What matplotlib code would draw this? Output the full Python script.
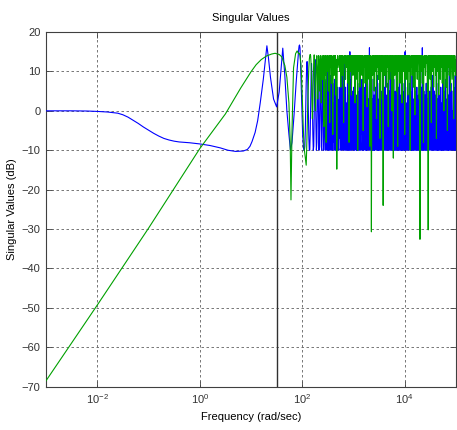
# -*- coding: utf-8 -*-
"""
Singular values plot (sigma-style), values read off the reference picture
"""

import numpy as np
import matplotlib
matplotlib.use('Agg')
import matplotlib.pyplot as plt
from matplotlib.ticker import NullLocator, LogFormatterMathtext

plt.rcParams['font.family'] = ['Liberation Sans', 'DejaVu Sans']
plt.rcParams['mathtext.fontset'] = 'custom'
plt.rcParams['mathtext.rm'] = 'Liberation Sans'
plt.rcParams['mathtext.it'] = 'Liberation Sans'

# Smooth part of the curves: log10(frequency) and dB

blue_logw = [-3, -2.5, -2.2, -2, -1.8, -1.6, -1.5, -1.4, -1.3, -1.2, -1.1,
             -1.0, -0.9, -0.8, -0.7, -0.6, -0.5, -0.4, -0.2, 0, 0.2, 0.4,
             0.55, 0.7, 0.85, 0.93, 0.98, 1.02, 1.08, 1.13, 1.18, 1.24,
             1.28, 1.31, 1.34, 1.38, 1.44, 1.50, 1.55, 1.59, 1.62, 1.66,
             1.70, 1.74, 1.77, 1.80, 1.84, 1.88, 1.92]
blue_db = [0, 0, -0.05, -0.15, -0.3, -0.6, -1.0, -1.6, -2.4, -3.2, -4.1,
           -4.9, -5.7, -6.4, -7.0, -7.4, -7.7, -7.9, -8.1, -8.4, -8.8, -9.4,
           -10.0, -10.3, -10.2, -9.8, -9.0, -7.8, -5.5, -2.5, 2.0, 8.0,
           13.0, 16.5, 13.5, 8.5, 3.0, 1.0, 4.8, 11.0, 15.9, 9.0,
           0.0, -6.0, -10.0, -8.0, -1.0, 7.0, 14.0]

green_logw = [-3, -2, -1, 0, 0.5, 0.8, 1.0, 1.1, 1.2, 1.3, 1.4, 1.47, 1.55,
              1.6, 1.66, 1.70, 1.74, 1.765, 1.78, 1.80, 1.83, 1.87, 1.90]
green_db = [-68.5, -49.3, -29.8, -9.6, -0.8, 5.8, 9.9, 11.7, 13.0, 13.9,
            14.4, 14.6, 14.3, 13.7, 11.5, 8.5, 2.0, -8.0, -22.6, -5.0, 10.9,
            14.5, 15.2]

# High-frequency part, first 10^1.93 .. 10^2.7, then 10^2.715 .. 10^5

band_a_logw = np.linspace(1.93, 2.70, 90)
band_b_logw = np.linspace(2.715, 5.0, 300)

blue_a = [15.5, 16.5, 16.7, 16, 13, 9, 5, 1, -3, -6,
          -8, -9.5, -10, -10, -9, -5, 1, 7, 11, 12.5,
          10, 5, -1, -7, -10, -10, -6, 1, 8, 12,
          9, 2, -6, -10, -9, -1, 8, 13, 6, -4,
          -10, -8, 2, 10, 7, -3, -10, -5, 6, 11,
          1, -9, -10, 4, 12, -2, -10, 0, 9, -5,
          -10, 6, 8, -8, -10, 10, -1, -10, 5, 3,
          -10, 9, -6, -10, 12, -3, -10, 7, -8, 2,
          -10, 8, -4, -10, 10, -7, 4, -10, 6, -9]

green_a = [14.5, 14.6, 14.4, 14, 13, 12, 10, 7, 4, 0,
           -3, -6, -8, -10, -11, -12, -13, -13.8, -10, -5,
           0, 4, 8, 11, 13, 14, 14.3, 14, 12, 8,
           3, -2, 2, 8, 13, 14.2, 13, 7, 0, 6,
           12, 14, 11, 3, 9, 14, 13, 5, 10, 14,
           12, 2, 11, 14, 8, 13, 14, -4, 12, 14,
           9, 14, -8, 12, 14, 10, 14, 5, 13, 14,
           -3, 14, 11, 14, 7, 14, 12, -6, 13, 14,
           9, 14, 12, 14, 4, 13, -14.8, 13, 14, 11]

blue_b = [-10, 3, -7, 6, -10, -2, 4, -10, 9, -5, 1, -10, 5, -8, 12, -10, 0, 6, -10, -3,
          2, -10, 7, -6, -10, 4, -1, -10, 15, -4, -10, 3, 8, -10, -2, 5, -9, -10, 6, 0,
          -10, 10, -5, 2, -10, 4, -10, -3, 7, -10, 1, -7, 5, -10, 13, -1, -10, 3, -6, 8,
          -10, -4, 2, -10, 6, -8, 0, -10, 11, -3, -10, 4, -10, 7, -1, -9, 3, -10, 16, -5,
          -10, 1, 5, -10, -6, 3, -10, 8, -2, -10, 4, -10, 0, 6, -7, -10, 2, -4, 9, -10,
          3, -10, -1, 7, -10, 12, -6, -10, 2, 5, -10, -3, 4, -10, 1, -8, 6, -10, -2, 10,
          -10, 4, -5, -10, 3, 7, -10, 0, -9, 5, -10, 14, -4, -10, 2, 6, -10, -1, 3, -10,
          8, -7, -10, 1, 5, -10, -3, 9, -10, 2, -6, -10, 6, 0, -10, 11, -2, -10, 4, -8,
          -10, 3, -10, 7, -4, 1, -10, 5, -10, 15, -5, -10, 2, -1, -10, 6, -9, 4, -10, 0,
          7, -10, -3, 5, -10, 2, -10, 9, -6, -10, 3, 0, -10, 12, -4, -10, 5, -2, -10, 6,
          -10, 1, -8, 4, -10, 8, -1, -10, 3, -10, 6, -5, -10, 16, -3, -10, 2, 5, -10, -6,
          4, -10, 0, 7, -10, -4, 3, -10, 10, -7, -10, 1, 5, -10, -2, 6, -10, 3, -9, -10,
          9, -3, -10, 2, 5, -10, -6, 4, -10, 13, -1, -10, 3, -10, 7, -5, -10, 0, 4, -10,
          6, -8, -10, 2, -10, 11, -4, -10, 5, 1, -10, -2, 8, -10, 3, -7, -10, 6, -1, -10,
          4, -10, 14, -5, -10, 2, 7, -10, -3, 5, -10, 0, -9, 6, -10, 3, -10, 9, -4, -10]

green_b = [13, 14, 10, 14, 12, 6, 14, 13, 14, 9, 14, 11, -3, 13, 14, 12, 14, 8, 14, 13,
           11, 14, 14, 7, 13, 14, -8, 12, 14, 10, 14, 13, 4, 14, 12, 14, 9, 13, 14, 11,
           14, 2, 13, 14, 12, 14, 8, 14, -10, 11, 14, 13, 10, 14, 6, 14, 12, 14, 13, 9,
           14, 12, -5, 13, 14, 11, 14, 7, 14, 13, 14, 10, 1, 14, 12, 14, 13, 8, 14, -9,
           12, 14, 13, -30.7, 11, 14, 9, 14, 13, 14, 5, 12, 14, 10, 14, 13, -2, 14, 11, 14,
           13, 8, 14, 12, 14, -7, 13, 14, 10, 14, 12, 3, 14, -24, 11, 14, 13, 9, 14, 12,
           14, 6, 13, 14, 11, 14, -4, 12, 14, 13, 8, 14, 10, 14, 13, 0, 14, 12, 14, -12,
           11, 14, 13, 9, 14, 12, 14, 5, 13, 14, -9, 12, 14, 10, 14, 13, 7, 14, 11, 14,
           13, 2, 14, 12, 14, 10, 13, 14, -6, 11, 14, 13, 8, 14, 12, 14, 4, 13, 14, 10,
           14, 12, -10, 13, 14, 11, 14, 9, 14, 13, 6, 14, 12, 14, -1, 13, 14, 10, 14, 12,
           8, 14, 13, 14, 11, 3, 14, -32.6, 12, 14, 13, 10, 14, 7, 14, 12, -8, 13, 14, 11,
           14, 9, 13, 14, 12, 14, 5, 13, -30.2, 14, 11, 14, 12, 8, 14, 13, -3, 14, 10, 14,
           12, 14, 6, 13, 14, 11, 14, 9, 14, -7, 12, 14, 13, 10, 14, 4, 13, 14, 12, 8,
           14, 11, 13, 14, 7, 14, 12, 14, 0, 13, 14, 10, 14, 12, 6, 14, 13, -5, 14, 11,
           13, 14, 9, 14, 12, 5, 14, 13, 14, 8, 11, 14, 13, -2, 14, 10, 14, 12, 9, 13]

marker_w = 10 ** 1.5

blue_w = 10 ** np.concatenate([blue_logw, band_a_logw, band_b_logw])
blue_y = np.concatenate([blue_db, blue_a, blue_b])
green_w = 10 ** np.concatenate([green_logw, band_a_logw, band_b_logw])
green_y = np.concatenate([green_db, green_a, green_b])

# Ploting the chart

fig = plt.figure(figsize=(4.57, 4.30), dpi=100)
ax = fig.add_axes([46 / 457, (430 - 386.7) / 430, 410 / 457, 354.7 / 430])

ax.axvline(marker_w, color='#303030', linewidth=1.0, zorder=2)
ax.plot(blue_w, blue_y, color='#0000ff', linewidth=0.8, zorder=3)
ax.plot(green_w, green_y, color='#00a000', linewidth=0.8, zorder=4)

ax.set_xscale('log')
ax.set_xlim(1e-3, 1e5)
ax.set_ylim(-70, 20)
ax.set_yticks(np.arange(-70, 21, 10))
ax.set_xticks([1e-2, 1e0, 1e2, 1e4])
ax.xaxis.set_major_formatter(LogFormatterMathtext(base=10))
ax.xaxis.set_minor_locator(NullLocator())

ax.grid(True, color='#606060', linestyle=(0, (3, 3)), linewidth=0.6)
ax.set_axisbelow(True)
for sp in ax.spines.values():
    sp.set_color('#404040')
    sp.set_linewidth(0.8)

ax.tick_params(direction='in', length=4, width=0.6, colors='#404040',
               labelsize=8, labelcolor='#333333', pad=4)
ax.tick_params(top=True, right=True)

ax.set_title('Singular Values', fontsize=8, pad=8)
ax.set_xlabel('Frequency (rad/sec)', fontsize=8, labelpad=4)
ax.set_ylabel('Singular Values (dB)', fontsize=8, labelpad=3)

fig.savefig('out.png', dpi=100)
